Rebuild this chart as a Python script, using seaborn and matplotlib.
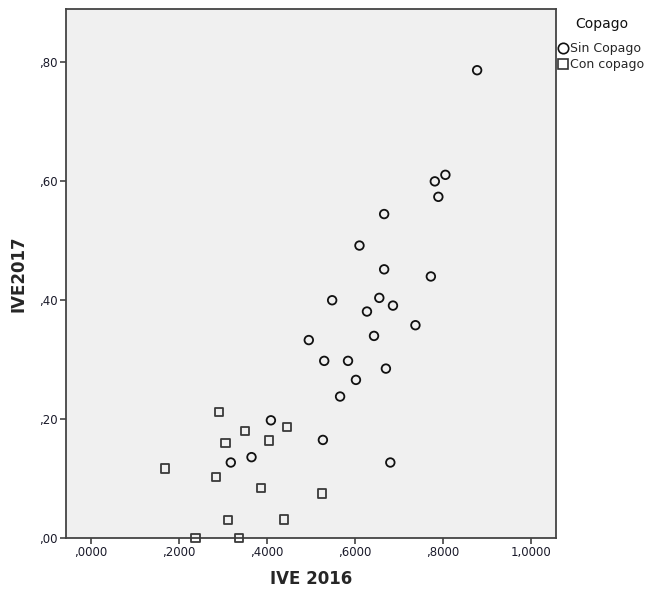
import pandas as pd
import matplotlib
matplotlib.use("Agg")
import matplotlib.pyplot as plt
import seaborn as sns
from matplotlib.lines import Line2D

# values
sin_x = [0.877, 0.805, 0.781, 0.789, 0.666, 0.610, 0.666, 0.772, 0.548, 0.655,
         0.686, 0.627, 0.737, 0.643, 0.495, 0.530, 0.584, 0.670, 0.602, 0.566,
         0.527, 0.680, 0.409, 0.365, 0.318]
sin_y = [0.787, 0.611, 0.600, 0.574, 0.545, 0.492, 0.452, 0.440, 0.400, 0.404,
         0.391, 0.381, 0.358, 0.340, 0.333, 0.298, 0.298, 0.285, 0.266, 0.238,
         0.165, 0.127, 0.198, 0.136, 0.127]
con_x = [0.291, 0.350, 0.445, 0.404, 0.306, 0.169, 0.284, 0.387, 0.525, 0.312,
         0.439, 0.238, 0.336]
con_y = [0.212, 0.180, 0.187, 0.164, 0.160, 0.117, 0.103, 0.084, 0.075, 0.030,
         0.031, 0.000, 0.000]

x_ticks = [0.0, 0.2, 0.4, 0.6, 0.8, 1.0]
x_labels = [",0000", ",2000", ",4000", ",6000", ",8000", "1,0000"]
y_ticks = [0.0, 0.2, 0.4, 0.6, 0.8]
y_labels = [",00", ",20", ",40", ",60", ",80"]

df = pd.DataFrame({
    "IVE2016": sin_x + con_x,
    "IVE2017": sin_y + con_y,
    "Copago": ["Sin Copago"] * len(sin_x) + ["Con copago"] * len(con_x),
})

sns.set_style("white")
plt.rcParams["font.family"] = ["DejaVu Sans"]

fig = plt.figure(figsize=(6.49, 5.89), dpi=100)
ax = fig.add_axes([66 / 649, 51 / 589, 490 / 649, 529 / 589])
ax.set_facecolor("#f0f0f0")

sns.scatterplot(data=df[df["Copago"] == "Sin Copago"], x="IVE2016", y="IVE2017",
                marker="o", s=38, facecolor="none", edgecolor="#111111",
                linewidth=1.3, ax=ax, legend=False, zorder=3, clip_on=False)
sns.scatterplot(data=df[df["Copago"] == "Con copago"], x="IVE2016", y="IVE2017",
                marker="s", s=36, facecolor="none", edgecolor="#3a3a3a",
                linewidth=1.3, ax=ax, legend=False, zorder=3, clip_on=False)

ax.set_xlim(-0.056, 1.056)
ax.set_ylim(0, 0.89)
ax.set_xticks(x_ticks)
ax.set_xticklabels(x_labels)
ax.set_yticks(y_ticks)
ax.set_yticklabels(y_labels)
ax.tick_params(axis="both", direction="out", length=4, width=1.1,
               color="#333333", labelsize=8.5, labelcolor="#1a1a2a", pad=2,
               bottom=True, left=True)

for sp in ax.spines.values():
    sp.set_color("#444444")
    sp.set_linewidth(1.3)

ax.set_xlabel("IVE 2016", fontsize=12, fontweight="bold", labelpad=8)
ax.set_ylabel("IVE2017", fontsize=12, fontweight="bold", labelpad=8)

handles = [
    Line2D([], [], marker="o", linestyle="none", markersize=7.5,
           markerfacecolor="none", markeredgecolor="#111111", markeredgewidth=1.2),
    Line2D([], [], marker="s", linestyle="none", markersize=7.5,
           markerfacecolor="none", markeredgecolor="#333333", markeredgewidth=1.2),
]
leg = ax.legend(handles, ["Sin Copago", "Con copago"], title="Copago",
                loc="upper left", bbox_to_anchor=(559 / 649, 1 - 17 / 589),
                bbox_transform=fig.transFigure, frameon=False, fontsize=9,
                title_fontsize=10, borderpad=0, borderaxespad=0,
                handlelength=0.6, handletextpad=0.25, labelspacing=0.25)
leg._legend_box.sep = 8
leg.get_title().set_color("#111111")

fig.savefig("out.png", dpi=100)
